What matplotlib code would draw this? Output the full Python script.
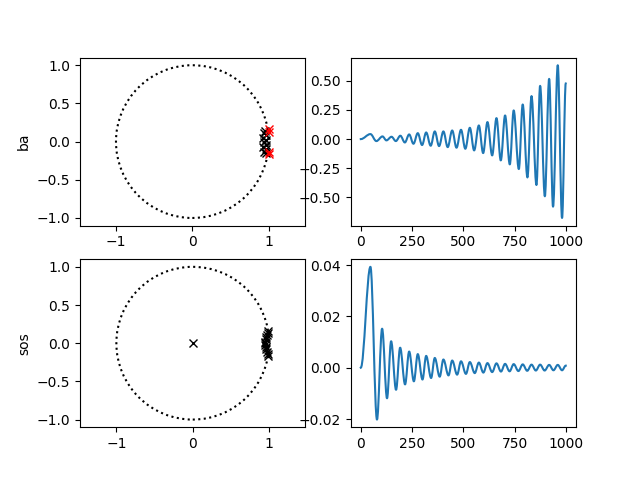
import matplotlib
matplotlib.use('Agg')
import matplotlib.pyplot as plt
from matplotlib.patches import Circle, PathPatch
from matplotlib.path import Path

# impulse response, transfer function form (peaks and troughs)
ba_n = [0, 47, 76, 106, 125, 150, 171, 193, 215, 236, 257, 278, 299,
        319, 341, 361, 382, 403, 424, 446, 467, 489, 510, 532, 553, 576, 597,
        618, 641, 662, 683, 704, 727, 746, 771, 790, 813, 833, 857, 875, 898,
        919, 938, 961, 982, 1000]
ba_y = [0.0, 0.043, -0.017, 0.023, -0.011, 0.02, -0.017, 0.029,
        -0.029, 0.04, -0.04, 0.051, -0.051, 0.057, -0.057, 0.066, -0.06, 0.066,
        -0.069, 0.074, -0.074, 0.08, -0.083, 0.097, -0.097, 0.117, -0.12, 0.146,
        -0.14, 0.18, -0.183, 0.203, -0.217, 0.246, -0.257, 0.297, -0.329, 0.369,
        -0.394, 0.457, -0.491, 0.517, -0.58, 0.634, -0.677, 0.477]

# impulse response, second order sections
sos_n = [0, 47, 79, 104, 128, 148, 172, 192, 216, 236,
         259, 278, 301, 319, 343, 361, 385, 403, 428, 446, 470, 489, 513, 532,
         556, 576, 598, 618, 641, 662, 684, 704, 726, 746, 769, 790, 812, 833,
         854, 875, 897, 919, 940, 961, 982, 1000]
sos_y = [0.0, 0.0393, -0.0202,
         0.0152, -0.0119, 0.0103, -0.0086, 0.0078, -0.0065, 0.0063, -0.0053,
         0.0053, -0.0046, 0.0046, -0.004, 0.0038, -0.0035, 0.0032, -0.003,
         0.0028, -0.0027, 0.0025, -0.0024, 0.0022, -0.0021, 0.002, -0.0019,
         0.0018, -0.0017, 0.0017, -0.0015, 0.0015, -0.0014, 0.0014, -0.0013,
         0.0013, -0.0012, 0.0012, -0.0011, 0.0012, -0.0011, 0.0011, -0.001,
         0.0011, -0.001, 0.0008]

# poles
ba_re = [0.955, 0.935, 0.965, 0.93, 0.96, 0.935, 0.96, 0.93, 0.965, 0.94, 0.97]
ba_im = [0.145, 0.115, 0.085, 0.05, 0.02, -0.01, -0.04, -0.075, -0.1, -0.13, -0.15]
ba_bad_re = [1.0, 1.01, 1.0, 1.01]
ba_bad_im = [0.16, 0.13, -0.16, -0.13]

sos_re = [0.0, 0.985, 0.98, 0.97, 0.96, 0.955, 0.95, 0.95, 0.95, 0.955, 0.96, 0.97, 0.98, 0.985]
sos_im = [0.0, 0.165, 0.14, 0.11, 0.08, 0.05, 0.02, 0.0, -0.02, -0.05, -0.08, -0.11, -0.14, -0.165]


def smooth_line(ax, n, y):
    # rounded swings between the extrema: cubic segments, flat at each extremum
    verts = [(n[0], y[0])]
    codes = [Path.MOVETO]
    for k in range(1, len(n)):
        d = 0.36 * (n[k] - n[k - 1])
        verts += [(n[k - 1] + d, y[k - 1]), (n[k] - d, y[k]), (n[k], y[k])]
        codes += [Path.CURVE4] * 3
    ax.add_patch(PathPatch(Path(verts, codes), fill=False, edgecolor='C0',
                           lw=1.5, capstyle='projecting', joinstyle='round'))
    ax.autoscale_view()


fig, axs = plt.subplots(2, 2, figsize=(6.4, 4.8), dpi=100)

rows = [('ba', ba_re, ba_im, ba_n, ba_y), ('sos', sos_re, sos_im, sos_n, sos_y)]
for i, (name, re, im, n, y) in enumerate(rows):
    ax = axs[i, 0]
    ax.add_patch(Circle((0, 0), 1, fill=False, ls=':', lw=1.5, color='k'))
    ax.plot(re, im, 'kx')
    if name == 'ba':
        ax.plot(ba_bad_re, ba_bad_im, 'rx')
    ax.axis('equal')
    ax.set_ylabel(name)
    smooth_line(axs[i, 1], n, y)

fig.savefig('out.png')
